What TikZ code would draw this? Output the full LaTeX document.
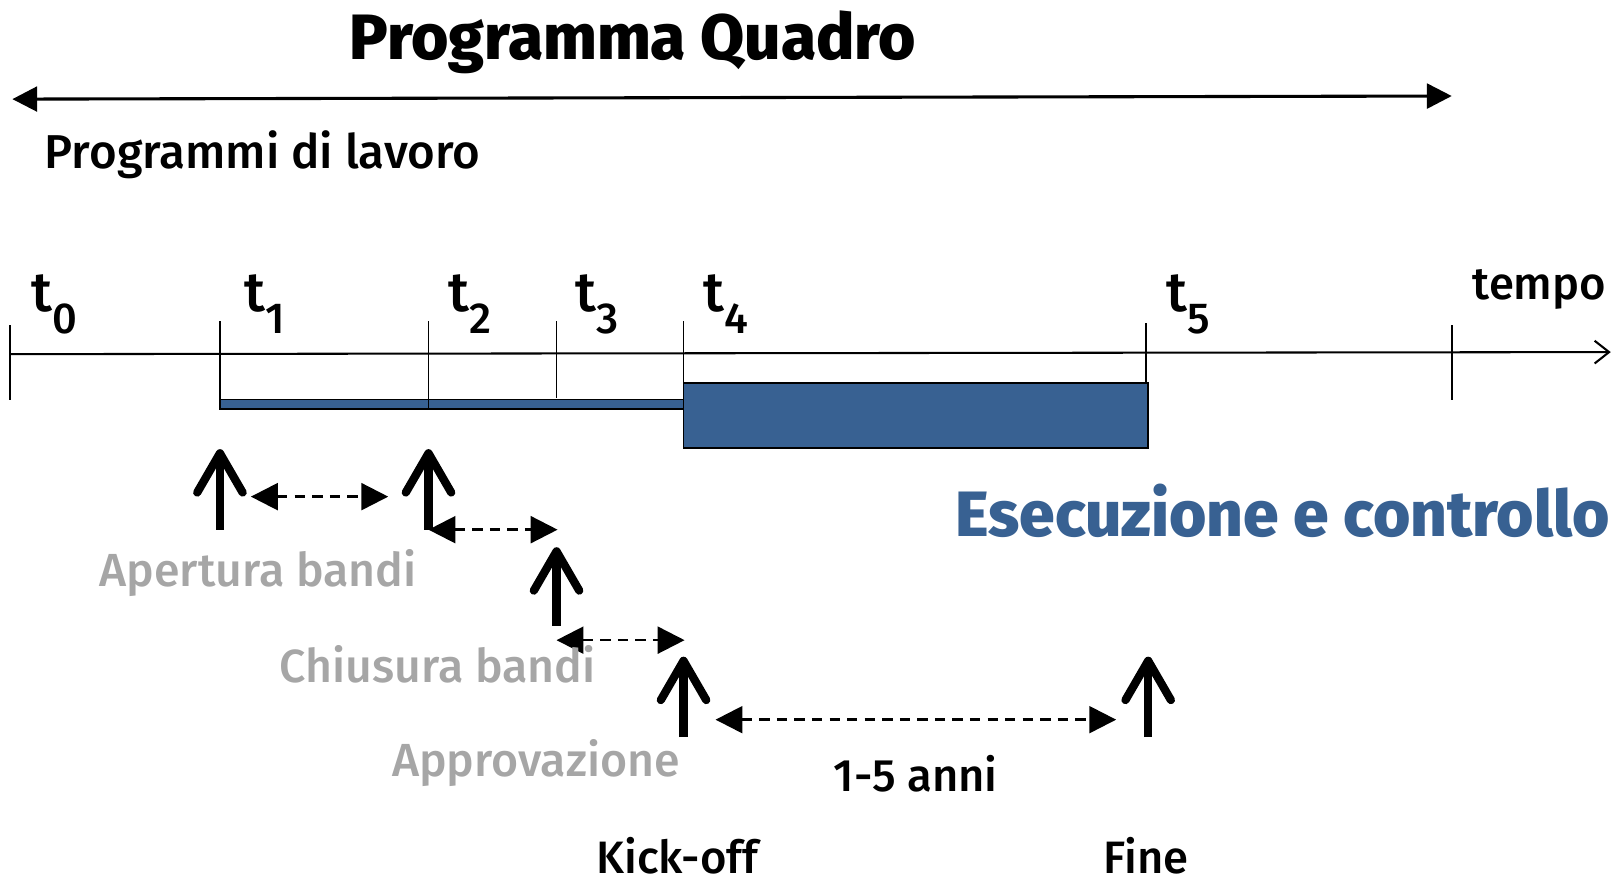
\documentclass[tikz,border=0pt]{standalone}
\usepackage{xcolor}
\usepackage{fontspec}
\setmainfont{Fira Sans}[UprightFont={Fira Sans Medium}]
\usepackage{tikz}
\usetikzlibrary{positioning,arrows.meta,calc}
\definecolor{barblue}{RGB}{56,97,146}
\definecolor{labgrey}{RGB}{166,166,166}
\newcommand{\tsub}[1]{t\raisebox{-0.38em}{\fontsize{21}{21}\selectfont #1}}
\tikzset{
     txt/.style={inner sep=0pt, font=\fontsize{22}{22}\selectfont},
     greytxt/.style={txt, text=labgrey, font=\fontsize{22.5}{22.5}\selectfont},
     upar/.style={line width=4pt, -{Straight Barb[length=19pt, width=22pt, round]}},
     dashar/.style={line width=1.2pt, dash pattern=on 5pt off 3.5pt,
                    {Triangle[length=13pt, width=13pt]}-{Triangle[length=13pt, width=13pt]}}
     }
\tikzstyle{ticker} = [draw, line width=0.8pt]
\tikzstyle{bar} = [draw, line width=0.8pt, fill=barblue]

\begin{document}
\begin{tikzpicture}[x=0.5pt,y=-0.5pt]
\tikzstyle{tlab} = [inner sep=0pt, anchor=base west, font=\fontsize{27}{27}\selectfont]
\useasboundingbox (0,0) rectangle (1568,849);

% framework programme
\node [txt, anchor=base, font=\fontsize{31}{31}\selectfont\bfseries] (PQ) at (613,58) {Programma Quadro};
\coordinate (QL) at (12,96);
\coordinate (QR) at (1406,93);
\draw [line width=1.5pt, {Triangle[length=12pt, width=12pt]}-{Triangle[length=12pt, width=12pt]}] (QL) -- (QR);
\node [txt, anchor=base west, font=\fontsize{23}{23}\selectfont] (PL) at (43,163) {Programmi di lavoro};

% time axis
\coordinate (X0) at (10,343);
\coordinate (X1) at (1560,341);
\draw [line width=1pt, -{Straight Barb[length=7pt, width=11pt]}] (X0) -- (X1);
\node [txt, anchor=base east] (TP) at (1556,290) {tempo};

\draw [ticker] (10,315) -- (10,387);
\draw [ticker] (213,311) -- (213,387);
\draw [ticker] (415,311) -- (415,396);
\draw [ticker] (539,311) -- (539,385);
\draw [ticker] (662,311) -- (662,371);
\draw [ticker] (1110,313) -- (1110,371);
\draw [ticker] (1406,315) -- (1406,387);

\node [tlab] (L0) at (30,302) {\tsub{0}};
\node [tlab] (L1) at (236,302) {\tsub{1}};
\node [tlab] (L2) at (434,302) {\tsub{2}};
\node [tlab] (L3) at (557,302) {\tsub{3}};
\node [tlab] (L4) at (681,302) {\tsub{4}};
\node [tlab] (L5) at (1129,302) {\tsub{5}};

% bars
\draw [bar] (213,387) rectangle (415,396);
\draw [bar] (415,387) rectangle (662,396);
\draw [bar] (662,371) rectangle (1112,434);
\node [txt, anchor=base, text=barblue, font=\fontsize{31}{31}\selectfont\bfseries] (EC) at (1242,520) {Esecuzione e controllo};

% milestones
\coordinate (A1b) at (213,513); \coordinate (A1t) at (213,435);
\coordinate (A2b) at (415,513); \coordinate (A2t) at (415,435);
\coordinate (A3b) at (539,606); \coordinate (A3t) at (539,530);
\coordinate (A4b) at (662,714); \coordinate (A4t) at (662,636);
\coordinate (A5b) at (1112,714); \coordinate (A5t) at (1112,636);
\draw [upar] (A1b) -- (A1t);
\draw [upar] (A2b) -- (A2t);
\draw [upar] (A3b) -- (A3t);
\draw [upar] (A4b) -- (A4t);
\draw [upar] (A5b) -- (A5t);

%Lines
\coordinate (D1l) at (243,481); \coordinate (D1r) at (376,481);
\coordinate (D2l) at (415,513); \coordinate (D2r) at (540,513);
\coordinate (D3l) at (539,620); \coordinate (D3r) at (663,620);
\coordinate (D4l) at (693,697); \coordinate (D4r) at (1081,697);
\draw [dashar] (D1l) -- (D1r);
\draw [dashar] (D2l) -- (D2r);
\draw [dashar] (D3l) -- (D3r);
\draw [dashar] (D4l) -- (D4r);

\node [greytxt, anchor=base] (AB) at (250,568) {Apertura bandi};
\node [greytxt, anchor=base] (CB) at (424,661) {Chiusura bandi};
\node [greytxt, anchor=base] (AP) at (519,752) {Approvazione};
\node [txt, anchor=base] (DU) at (887,767) {1-5 anni};
\node [txt, anchor=base] (KO) at (656,846) {Kick-off};
\node [txt, anchor=base] (FI) at (1110,846) {Fine};
\end{tikzpicture}
\end{document}
